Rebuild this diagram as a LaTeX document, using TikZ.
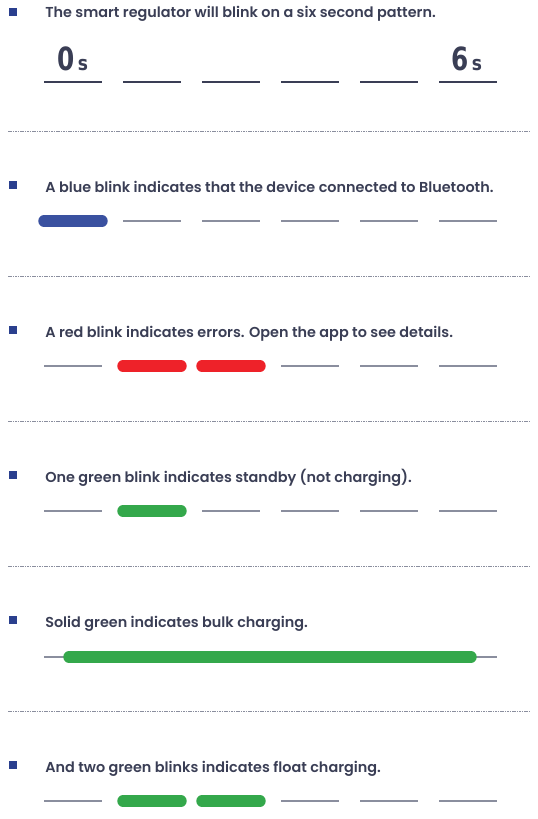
\documentclass[tikz,border=0pt]{standalone}
\usepackage{fontspec}
\newfontfamily\captionfont{Poppins}[UprightFont=* SemiBold]
\newfontfamily\countfont{DejaVu Sans Condensed}[UprightFont=* Bold]

\definecolor{inkslate}{HTML}{3A3E55}
\definecolor{bulletblue}{HTML}{2A3F8E}
\definecolor{tickgray}{HTML}{8A8E9E}
\definecolor{blinkblue}{HTML}{3A51A0}
\definecolor{blinkred}{HTML}{EE2229}
\definecolor{blinkgreen}{HTML}{34A84B}

\tikzset{
  captiontext/.style={anchor=base west,inner sep=0pt,text=inkslate,font=\captionfont\fontsize{10.8}{13}\selectfont},
  secondlabel/.style={anchor=base west,inner sep=0pt,text=inkslate},
  sepline/.style={draw=tickgray,line width=0.5pt,dash pattern=on 1.2pt off 0.6pt},
  slot/.style={draw=tickgray,line width=1pt},
  timeslot/.style={draw=inkslate,line width=1pt},
  blink/.style={line width=8.6pt,line cap=round},
}
% one "0s"/"6s" mark
\newcommand{\secmark}[1]{\countfont\scalebox{0.86}[1]{\fontsize{24}{24}\selectfont #1}\hspace{2.5pt}\scalebox{0.95}[1]{\fontsize{15}{15}\selectfont s}}

\begin{document}
\begin{tikzpicture}[x=0.75pt,y=0.75pt,yscale=-1,xscale=1]
\path[use as bounding box] (0,0) rectangle (537,819);

% Separators
\foreach \y in {131,276,421,566,711}
  \draw[sepline] (8,\y) -- (531,\y);

% Bullets
\foreach \y in {12,185,330,475,620,765}
  \fill[bulletblue] (9,\y-4) rectangle (17,\y+4);

% Text Nodes
\node[captiontext] (pattern) at (45,17) {The smart regulator will blink on a six second pattern.};
\node[captiontext] (bluetxt) at (45,192) {A blue blink indicates that the device connected to Bluetooth.};
\node[captiontext] (redtxt) at (45,337) {A red blink indicates errors. Open the app to see details.};
\node[captiontext] (standbytxt) at (45,482) {One green blink indicates standby (not charging).};
\node[captiontext] (bulktxt) at (45,627) {Solid green indicates bulk charging.};
\node[captiontext] (floattxt) at (45,772) {And two green blinks indicates float charging.};

% Time marks
\node[secondlabel] (start) at (57,70) {\secmark{0}};
\node[secondlabel] (finish) at (451,70) {\secmark{6}};

% Row 1: six second slots
\foreach \i in {0,...,5}
  \draw[timeslot] ({44+79*\i},82) -- ({102+79*\i},82);

% Row 2: blue blink
\foreach \i in {1,...,5}
  \draw[slot] ({44+79*\i},221) -- ({102+79*\i},221);
\draw[blink,blinkblue] (44,221) -- (102,221);

% Row 3: red blinks
\foreach \i in {0,3,4,5}
  \draw[slot] ({44+79*\i},366) -- ({102+79*\i},366);
\foreach \i in {1,2}
  \draw[blink,blinkred] ({44+79*\i},366) -- ({102+79*\i},366);

% Row 4: one green blink
\foreach \i in {0,2,3,4,5}
  \draw[slot] ({44+79*\i},511) -- ({102+79*\i},511);
\draw[blink,blinkgreen] (123,511) -- (181,511);

% Row 5: solid green
\draw[slot] (44,657) -- (497,657);
\draw[blink,blinkgreen] (69,657) -- (471,657);

% Row 6: two green blinks
\foreach \i in {0,3,4,5}
  \draw[slot] ({44+79*\i},801) -- ({102+79*\i},801);
\foreach \i in {1,2}
  \draw[blink,blinkgreen] ({44+79*\i},801) -- ({102+79*\i},801);

\end{tikzpicture}
\end{document}
